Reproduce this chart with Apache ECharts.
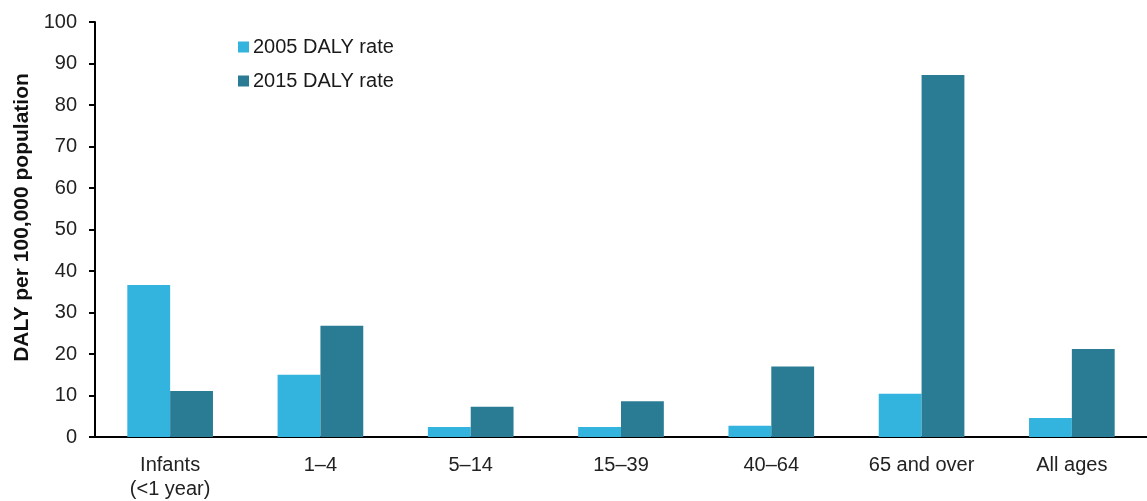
<!DOCTYPE html>
<html>
<head>
<meta charset="utf-8">
<script src="https://cdn.jsdelivr.net/npm/echarts@6/dist/echarts.min.js"></script>
<style>
html,body{margin:0;padding:0;background:#fff;}
#chart{width:1147px;height:501px;}
</style>
</head>
<body>
<div id="chart"></div>
<script>
const categories = ['Infants\n(<1 year)', '1–4', '5–14', '15–39', '40–64', '65 and over', 'All ages'];
const rate2005 = [36.6, 15.0, 2.4, 2.4, 2.7, 10.4, 4.6];
const rate2015 = [11.1, 26.8, 7.3, 8.6, 17.0, 87.2, 21.2];
const seriesNames = ['2005 DALY rate', '2015 DALY rate'];
const yAxisTitle = 'DALY per 100,000 population';

const chart = echarts.init(document.getElementById('chart'));
const font = 'Liberation Sans, Arial, sans-serif';
chart.setOption({
  animation: false,
  textStyle: { fontFamily: font },
  grid: { left: 95, right: 0, top: 22, bottom: 62 },
  legend: {
    orient: 'vertical',
    left: 233,
    top: 32,
    itemWidth: 11,
    itemHeight: 11,
    itemGap: 14,
    icon: 'rect',
    textStyle: { fontFamily: font, fontSize: 20, color: '#1a1a1a', padding: [0, 0, 0, -1] },
    data: seriesNames
  },
  xAxis: {
    type: 'category',
    data: categories,
    axisLine: { lineStyle: { color: '#000', width: 2 } },
    axisTick: { show: false },
    axisLabel: { fontFamily: font, fontSize: 20, color: '#222', margin: 16, lineHeight: 24 }
  },
  yAxis: {
    type: 'value',
    min: 0,
    max: 100,
    interval: 10,
    name: yAxisTitle,
    nameLocation: 'middle',
    nameGap: 62,
    nameTextStyle: { fontFamily: font, fontSize: 21, fontWeight: 'bold', color: '#111', padding: [0, 0, 0, 24] },
    axisLine: { show: true, lineStyle: { color: '#000', width: 2 } },
    axisTick: { show: true, length: 6, lineStyle: { color: '#000', width: 2 } },
    splitLine: { show: false },
    axisLabel: { fontFamily: font, fontSize: 20, color: '#222', margin: 18 }
  },
  series: [
    {
      name: seriesNames[0],
      type: 'bar',
      data: rate2005,
      barGap: '0%',
      barCategoryGap: '43%',
      itemStyle: { color: '#33B4DE' }
    },
    {
      name: seriesNames[1],
      type: 'bar',
      data: rate2015,
      barGap: '0%',
      barCategoryGap: '43%',
      itemStyle: { color: '#2A7C94' }
    }
  ]
});
</script>
</body>
</html>
